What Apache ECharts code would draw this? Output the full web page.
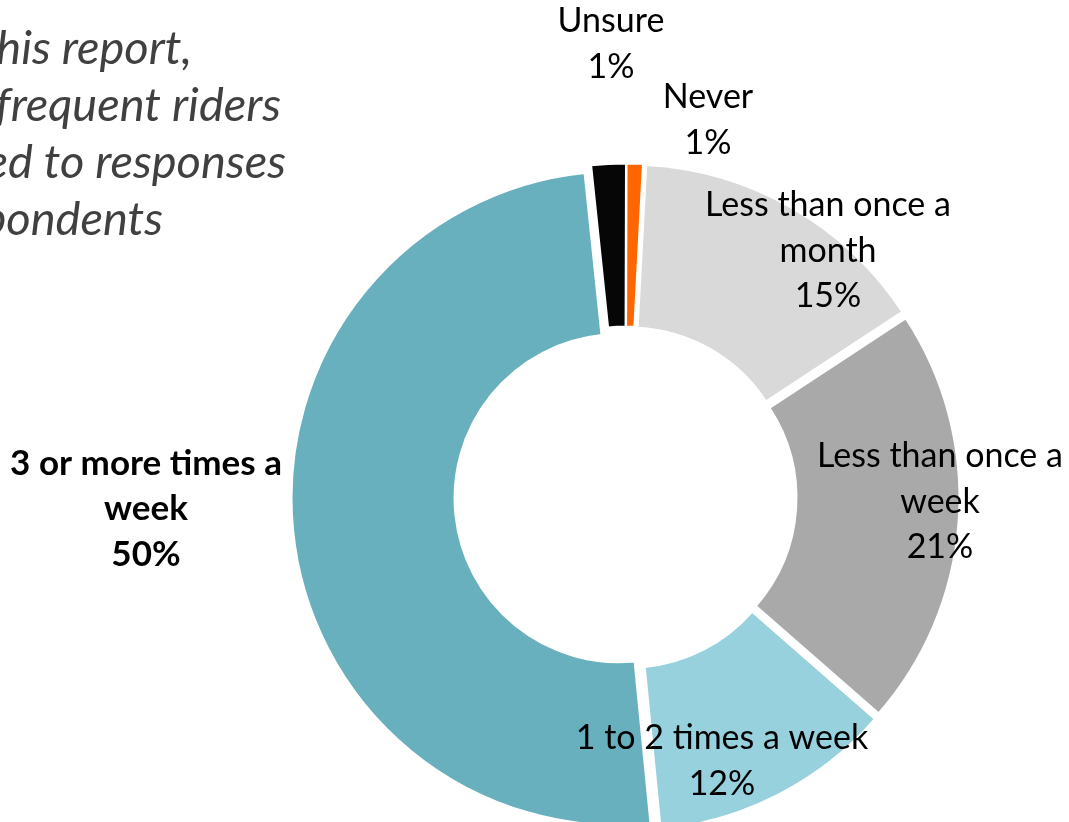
<!DOCTYPE html>
<html>
<head>
<meta charset="utf-8">
<script src="https://cdn.jsdelivr.net/npm/echarts@6/dist/echarts.min.js"></script>
<style>
html,body{margin:0;padding:0;background:#fff;}
#chart{width:1069px;height:822px;}
</style>
</head>
<body>
<div id="chart"></div>
<script>
// ---- Data ----
const categories = ['Never', 'Less than once a month', 'Less than once a week', '1 to 2 times a week', '3 or more times a week', 'Unsure'];
const values = [0.8, 14.9, 20.7, 12.0, 49.9, 1.7];
const shownPercents = ['1%', '15%', '21%', '12%', '50%', '1%'];
const labelNames = ['Never', 'Less than once a\nmonth', 'Less than once a\nweek', '1 to 2 times a week', '3 or more times a\nweek', 'Unsure'];
const colors = ['#FF6600', '#D9D9D9', '#A9A9A9', '#97D1DD', '#68B0BD', '#060606'];
const boldLabels = [false, false, false, false, true, false];
const noteLines = ['his report,', 'frequent riders', 'ed to responses', 'pondents'];

// placement (styling only)
const labelCenters = [[708, 120], [828, 251], [940, 502], [722, 761], [146, 509], [611, 44]];
const noteRightEdges = [192, 281, 286, 163];

const chart = echarts.init(document.getElementById('chart'), null, {renderer: 'canvas'});

const data = categories.map((c, i) => ({
  name: c,
  value: values[i],
  selected: true,
  itemStyle: {color: colors[i]},
  select: {itemStyle: {color: colors[i], borderColor: '#fff', borderWidth: 2}}
}));

const labelGraphics = categories.map((c, i) => ({
  type: 'text',
  x: labelCenters[i][0],
  y: labelCenters[i][1],
  z: 10,
  style: {
    text: labelNames[i] + '\n' + shownPercents[i],
    fontFamily: 'Lato',
    fontSize: boldLabels[i] ? 35 : 34,
    fontWeight: boldLabels[i] ? 'bold' : 'normal',
    lineHeight: 45.5,
    fill: '#000',
    align: 'center',
    verticalAlign: 'middle'
  }
}));

const noteGraphics = noteLines.map((t, i) => ({
  type: 'text',
  x: noteRightEdges[i],
  y: 20 + i * 57,
  style: {
    text: t,
    font: 'italic 47px Lato',
    lineHeight: 57,
    fill: '#404040',
    align: 'right',
    verticalAlign: 'top'
  }
}));

chart.setOption({
  animation: false,
  backgroundColor: '#ffffff',
  graphic: noteGraphics.concat(labelGraphics),
  series: [{
    type: 'pie',
    center: [625.5, 497.5],
    radius: [164, 327],
    startAngle: 89.85,
    clockwise: true,
    selectedMode: 'multiple',
    selectedOffset: 7,
    emphasis: {disabled: true},
    itemStyle: {borderColor: '#fff', borderWidth: 2},
    label: {show: false},
    labelLine: {show: false},
    data: data
  }]
});
</script>
</body>
</html>
